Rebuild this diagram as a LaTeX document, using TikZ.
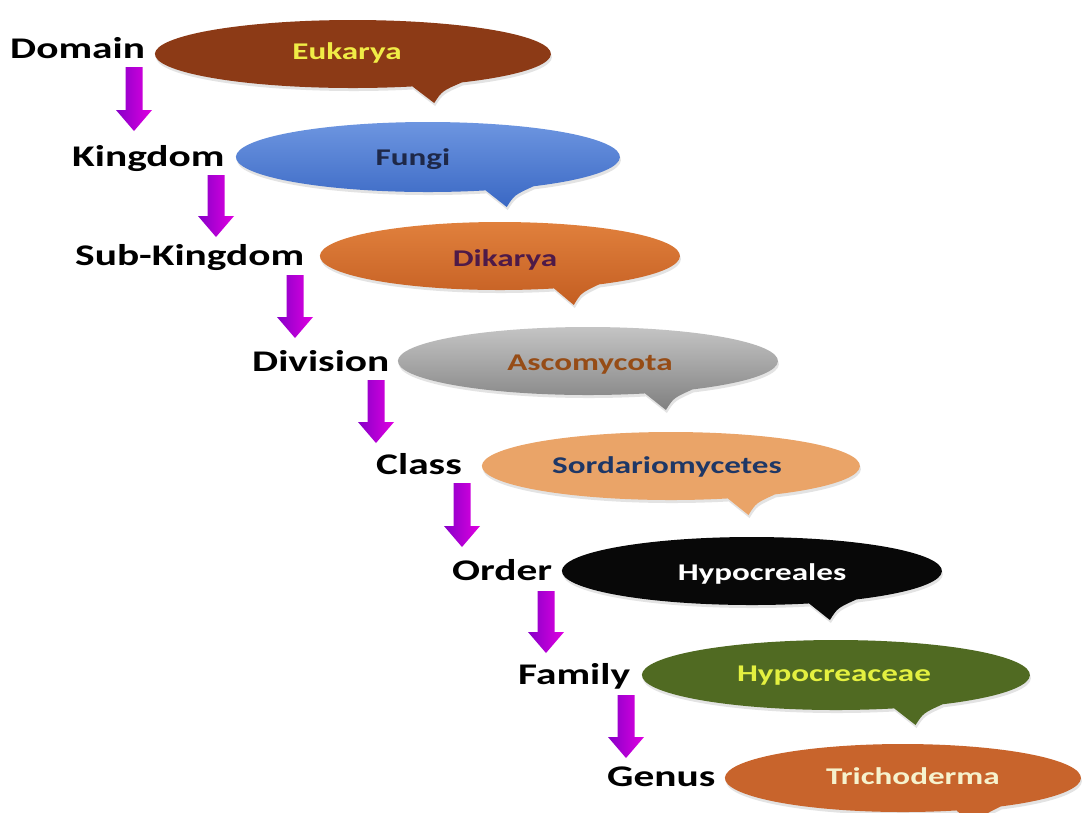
\documentclass[tikz,border=0pt]{standalone}
\usepackage{fontspec}
\newfontfamily\labfont{Carlito}[FakeStretch=1.38]
\usetikzlibrary{calc,shadows}
\definecolor{cEuk}{RGB}{140,58,22}
\definecolor{tEuk}{RGB}{240,236,70}
\definecolor{cFunT}{RGB}{112,152,226}
\definecolor{cFunB}{RGB}{58,104,196}
\definecolor{tFun}{RGB}{30,40,72}
\definecolor{cDikT}{RGB}{226,130,62}
\definecolor{cDikB}{RGB}{196,94,34}
\definecolor{tDik}{RGB}{78,26,72}
\definecolor{cAscT}{RGB}{200,200,200}
\definecolor{cAscB}{RGB}{128,128,128}
\definecolor{tAsc}{RGB}{150,76,22}
\definecolor{cSor}{RGB}{234,164,104}
\definecolor{tSor}{RGB}{30,55,102}
\definecolor{cHyp}{RGB}{8,8,8}
\definecolor{cHyc}{RGB}{80,106,34}
\definecolor{tHyc}{RGB}{228,240,64}
\definecolor{cTri}{RGB}{200,100,44}
\definecolor{tTri}{RGB}{246,242,205}
\definecolor{arL}{RGB}{135,0,200}
\definecolor{arR}{RGB}{225,0,225}
\newcommand\callout[5]{%
  \path[#5] ({#1+#3*0.55},{#2+#4*0.835})
    arc[start angle=56.6, end angle=-287.5, x radius=#3, y radius=#4]
    -- ({#1+#3*0.41},{#2+#4+15})
    .. controls ({#1+#3*0.45},{#2+#4+3}) .. cycle;}
\newcommand\fatarrow[2]{%
  \path[arrowfill] let \p1=(#1), \p2=(#2) in
    (\x1-8.5pt,\y1) -- (\x1+8.5pt,\y1) -- (\x1+8.5pt,\y2+21pt)
    -- (\x1+18pt,\y2+21pt) -- (\x1,\y2) -- (\x1-18pt,\y2+21pt)
    -- (\x1-8.5pt,\y2+21pt) -- cycle;}
\begin{document}
\begin{tikzpicture}[x=1pt,y=-1pt,
  lab/.style={font=\labfont\bfseries\fontsize{30}{34}\selectfont, text=black, anchor=base west, inner sep=0pt},
  btext/.style={font=\labfont\bfseries\fontsize{24}{28}\selectfont, anchor=base, inner sep=0pt},
  bub/.style={drop shadow={shadow xshift=1pt, shadow yshift=-3pt, opacity=0.22}},
  arrowfill/.style={left color=arL, right color=arR}]
\useasboundingbox[fill=white] (0,0) rectangle (1092,812);
% callouts
\callout{353}{54}{198}{34}{bub, fill=cEuk}
\callout{428}{157}{192}{35}{bub, top color=cFunT, bottom color=cFunB}
\callout{500}{256}{180}{34}{bub, top color=cDikT, bottom color=cDikB}
\callout{588}{361}{190}{34}{bub, top color=cAscT, bottom color=cAscB}
\callout{671}{466}{189}{34}{bub, fill=cSor}
\callout{752}{571}{190}{34}{bub, fill=cHyp}
\callout{836}{675}{194}{35}{bub, fill=cHyc}
\callout{903}{778}{178}{34}{bub, fill=cTri}
% callout texts
\node[btext, text=tEuk] (euk) at (347,59) {Eukarya};
\node[btext, text=tFun] (fun) at (413,165) {Fungi};
\node[btext, text=tDik] (dik) at (505,266) {Dikarya};
\node[btext, text=tAsc] (asc) at (590,370) {Ascomycota};
\node[btext, text=tSor] (sor) at (667,473) {Sordariomycetes};
\node[btext, text=white] (hyp) at (762,580) {Hypocreales};
\node[btext, text=tHyc] (hyc) at (834,681) {Hypocreaceae};
\node[btext, text=tTri] (tri) at (913,784) {Trichoderma};
% rank labels
\node[lab] (domain) at (10,58) {Domain};
\node[lab] (kingdom) at (72,166) {Kingdom};
\node[lab] (subk) at (75,265) {Sub-Kingdom};
\node[lab] (division) at (252,371) {Division};
\node[lab] (class) at (376,474) {Class};
\node[lab] (order) at (452,580) {Order};
\node[lab] (family) at (518,684) {Family};
\node[lab] (genus) at (607,786) {Genus};
% arrow end points
\coordinate (a1s) at (134,67);  \coordinate (a1e) at (134,131);
\coordinate (a2s) at (216,175); \coordinate (a2e) at (216,237);
\coordinate (a3s) at (295,275); \coordinate (a3e) at (295,338);
\coordinate (a4s) at (376,380); \coordinate (a4e) at (376,443);
\coordinate (a5s) at (462,483); \coordinate (a5e) at (462,547);
\coordinate (a6s) at (546,591); \coordinate (a6e) at (546,653);
\coordinate (a7s) at (626,695); \coordinate (a7e) at (626,758);
\fatarrow{a1s}{a1e}
\fatarrow{a2s}{a2e}
\fatarrow{a3s}{a3e}
\fatarrow{a4s}{a4e}
\fatarrow{a5s}{a5e}
\fatarrow{a6s}{a6e}
\fatarrow{a7s}{a7e}
\end{tikzpicture}
\end{document}
